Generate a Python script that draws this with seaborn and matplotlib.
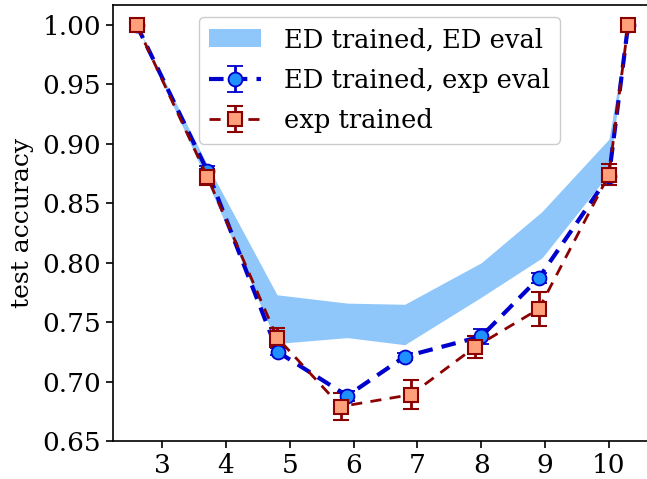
import numpy as np
import matplotlib
matplotlib.use("Agg")
import matplotlib.pyplot as plt
import seaborn as sns

# values
band_x = [2.6, 3.71, 4.8, 5.9, 6.8, 8.0, 8.95, 10.0, 10.3]
band_lo = [1.0, 0.868, 0.732, 0.737, 0.731, 0.771, 0.804, 0.875, 1.0]
band_hi = [1.0, 0.882, 0.773, 0.766, 0.765, 0.800, 0.843, 0.904, 1.0]

ed_x = [2.6, 3.71, 4.81, 5.9, 6.8, 8.0, 8.9, 10.0, 10.3]
ed_y = [1.0, 0.877, 0.725, 0.688, 0.721, 0.738, 0.787, 0.873, 1.0]
ed_err = [0.001, 0.004, 0.003, 0.004, 0.003, 0.006, 0.004, 0.004, 0.001]

exp_x = [2.6, 3.71, 4.8, 5.8, 6.9, 7.9, 8.9, 10.0, 10.3]
exp_y = [1.0, 0.872, 0.737, 0.679, 0.689, 0.729, 0.761, 0.874, 1.0]
exp_err = [0.001, 0.007, 0.008, 0.011, 0.012, 0.009, 0.014, 0.009, 0.001]

xticks = [3, 4, 5, 6, 7, 8, 9, 10]
yticks = [0.65, 0.70, 0.75, 0.80, 0.85, 0.90, 0.95, 1.00]

sns.set_theme(style="ticks")
plt.rcParams["font.family"] = ["DejaVu Serif"]
for k in ["text.color", "axes.labelcolor", "xtick.color", "ytick.color", "axes.edgecolor"]:
    plt.rcParams[k] = "black"

fig = plt.figure(figsize=(6.47, 4.79), dpi=100)
ax = fig.add_axes([113 / 647, 1 - 441 / 479, 540 / 647, 436 / 479])

ax.fill_between(band_x, band_lo, band_hi, color="#8fc7fa", lw=0,
                label="ED trained, ED eval")
ax.errorbar(ed_x, ed_y, yerr=ed_err, fmt="o", ls=(0, (3.5, 2.2)), lw=3,
            color="mediumblue", mfc="dodgerblue", mec="mediumblue", ms=10,
            mew=1.3, capsize=6, elinewidth=2, capthick=2,
            label="ED trained, exp eval")
ax.errorbar(exp_x, exp_y, yerr=exp_err, fmt="s", ls=(0, (4, 3)), lw=2,
            color="darkred", mfc="lightsalmon", mec="darkred", ms=10,
            mew=1.5, capsize=6, elinewidth=2, capthick=2,
            label="exp trained")

ax.set_xlim(2.23, 10.69)
ax.set_ylim(0.65, 1.0168)
ax.set_xticks(xticks)
ax.set_yticks(yticks)
ax.set_yticklabels([f"{v:.2f}" for v in yticks])
ax.tick_params(labelsize=19, length=5, width=1.2)
ax.set_ylabel("test accuracy", fontsize=18, labelpad=6)
for s in ax.spines.values():
    s.set_linewidth(1.2)

ax.legend(loc="upper left", bbox_to_anchor=(0.159, 0.972), borderaxespad=0,
          fontsize=18.5, handlelength=2.0, handletextpad=0.9,
          labelspacing=0.6, framealpha=1)

fig.savefig("out.png", dpi=100)
